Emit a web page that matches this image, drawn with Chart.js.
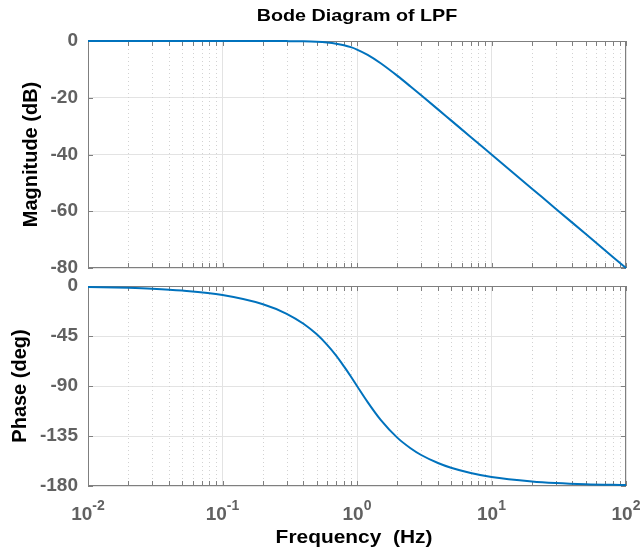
<!DOCTYPE html>
<html>
<head>
<meta charset="utf-8">
<script src="https://cdn.jsdelivr.net/npm/chart.js@4"></script>
<style>
  html, body { margin: 0; padding: 0; background: #fff; }
  #wrap { position: relative; width: 640px; height: 552px; overflow: hidden; }
  #magCanvas { position: absolute; left: 0; top: 0; }
  #phaseCanvas { position: absolute; left: 0; top: 270px; }
</style>
</head>
<body>
<div id="wrap">
  <canvas id="magCanvas" width="640" height="280"></canvas>
  <canvas id="phaseCanvas" width="640" height="282"></canvas>
</div>
<script>
// frequency response of the low pass filter
const freqHz = [0.01, 0.02, 0.03, 0.05, 0.1, 0.2, 0.3, 0.4, 0.5, 0.6, 0.7, 0.8, 0.9,
  1, 1.2, 1.5, 2, 2.5, 3, 4, 5, 7, 10, 20, 30, 50, 100];
const magnitudeDb = [0, 0, 0, 0, 0, -0.01, -0.04, -0.11, -0.26, -0.53, -0.93, -1.48, -2.17,
  -3.01, -4.88, -7.83, -12.3, -16.03, -19.14, -24.1, -27.97, -33.8, -40, -52.04, -59.08, -67.96, -80];
const phaseDeg = [-0.8, -1.6, -2.4, -4.1, -8.1, -16.4, -25, -34, -43.3, -53, -62.7, -72.4, -81.5,
  -90, -104.5, -120.5, -136.7, -146, -152.1, -159.3, -163.6, -168.3, -171.9, -175.9, -177.3, -178.4, -179.2];

const decades = [0.01, 0.1, 1, 10, 100];
const decadeExp = ["-2", "-1", "0", "1", "2"];
const magTicks = [-80, -60, -40, -20, 0];
const phaseTicks = [-180, -135, -90, -45, 0];

const FONT = "'Liberation Sans', Arial, sans-serif";
const LINE = "#0072BD";
const TICK_GRAY = "#616161";

function minorFreqs() {
  const out = [];
  for (let d = 0; d < decades.length - 1; d++) {
    for (let k = 2; k <= 9; k++) out.push(decades[d] * k);
  }
  return out;
}

// text drawn a little wider than the font's natural width
function wideText(ctx, text, x, y, font, stretch) {
  ctx.save();
  ctx.font = font;
  ctx.textAlign = "center";
  ctx.translate(x, y);
  ctx.scale(stretch, 1);
  ctx.fillText(text, 0, 0);
  ctx.restore();
}

// dotted minor grid, box and inward tick marks (under the curve)
const framePlugin = {
  id: "frame",
  beforeDatasetsDraw(chart) {
    const { ctx, chartArea: a, scales } = chart;
    const x = scales.x, y = scales.y;
    ctx.save();
    ctx.strokeStyle = "#d2d2d2";
    ctx.lineWidth = 1;
    ctx.setLineDash([1, 3]);
    minorFreqs().forEach(f => {
      const px = Math.round(x.getPixelForValue(f)) + 0.5;
      ctx.beginPath();
      ctx.moveTo(px, a.top);
      ctx.lineTo(px, a.bottom);
      ctx.stroke();
    });
    ctx.setLineDash([]);
    ctx.strokeStyle = "#7f7f7f";
    ctx.strokeRect(a.left + 0.5, a.top + 0.5, a.right - a.left - 1, a.bottom - a.top - 1);
    ctx.beginPath();
    decades.concat(minorFreqs()).forEach(f => {
      const px = Math.round(x.getPixelForValue(f)) + 0.5;
      ctx.moveTo(px, a.top);
      ctx.lineTo(px, a.top + 5);
      ctx.moveTo(px, a.bottom);
      ctx.lineTo(px, a.bottom - 5);
    });
    y.ticks.forEach(t => {
      const py = Math.round(y.getPixelForValue(t.value)) + 0.5;
      ctx.moveTo(a.left, py);
      ctx.lineTo(a.left + 5, py);
      ctx.moveTo(a.right, py);
      ctx.lineTo(a.right - 5, py);
    });
    ctx.stroke();
    ctx.restore();
  }
};

// title above the magnitude plot
const titlePlugin = {
  id: "bodeTitle",
  afterDraw(chart) {
    const { ctx, chartArea: a } = chart;
    ctx.save();
    ctx.fillStyle = "#000";
    ctx.textBaseline = "alphabetic";
    wideText(ctx, "Bode Diagram of LPF", (a.left + a.right) / 2, 21, "bold 17px " + FONT, 1.16);
    ctx.restore();
  }
};

// 10^n labels and axis name under the phase plot
const decadeLabels = {
  id: "decadeLabels",
  afterDraw(chart) {
    const { ctx, scales, chartArea: a } = chart;
    const x = scales.x;
    const base = a.bottom + 34;
    const big = "bold 19px " + FONT;
    const small = "bold 14px " + FONT;
    ctx.save();
    ctx.fillStyle = TICK_GRAY;
    ctx.textBaseline = "alphabetic";
    ctx.textAlign = "left";
    decades.forEach((f, i) => {
      ctx.font = big;
      const w1 = ctx.measureText("10").width;
      ctx.font = small;
      const w2 = ctx.measureText(decadeExp[i]).width;
      const left = x.getPixelForValue(f) - (w1 + w2) / 2;
      ctx.font = big;
      ctx.fillText("10", left, base);
      ctx.font = small;
      ctx.fillText(decadeExp[i], left + w1, base - 10);
    });
    ctx.fillStyle = "#000";
    wideText(ctx, "Frequency  (Hz)", (a.left + a.right) / 2 - 3, a.bottom + 57, "bold 19px " + FONT, 1.1);
    ctx.restore();
  }
};

function series(values) {
  return freqHz.map((f, i) => ({ x: f, y: values[i] }));
}

function xScale(height) {
  return {
    type: "logarithmic",
    min: 0.01,
    max: 100,
    afterBuildTicks: s => { s.ticks = decades.map(v => ({ value: v })); },
    afterFit: s => { s.height = height; s.paddingLeft = 0; s.paddingRight = 0; },
    ticks: { display: false },
    grid: { color: "#e3e3e3", drawTicks: false },
    border: { display: false }
  };
}

function yScale(ticks, label, titlePad) {
  return {
    min: ticks[0],
    max: ticks[ticks.length - 1],
    afterBuildTicks: s => { s.ticks = ticks.map(v => ({ value: v })); },
    afterFit: s => { s.width = 88; s.paddingTop = 0; s.paddingBottom = 0; },
    ticks: {
      color: TICK_GRAY,
      padding: 10,
      font: { family: FONT, size: 19, weight: "bold" }
    },
    grid: { color: "#e3e3e3", drawTicks: false },
    border: { display: false },
    title: {
      display: true,
      text: label,
      color: "#000",
      font: { family: FONT, size: 20, weight: "bold" },
      padding: { top: titlePad, bottom: 0 }
    }
  };
}

function makeChart(id, values, yTicks, label, titlePad, padding, xHeight, isBottom) {
  return new Chart(document.getElementById(id).getContext("2d"), {
    type: "line",
    data: {
      datasets: [{
        data: series(values),
        borderColor: LINE,
        borderWidth: 2,
        pointRadius: 0,
        fill: false,
        clip: 3,
        cubicInterpolationMode: "monotone"
      }]
    },
    options: {
      responsive: false,
      animation: false,
      layout: { padding: padding },
      plugins: { legend: { display: false }, tooltip: { enabled: false } },
      scales: {
        x: xScale(xHeight),
        y: yScale(yTicks, label, titlePad)
      }
    },
    plugins: isBottom ? [framePlugin, decadeLabels] : [framePlugin, titlePlugin]
  });
}

makeChart("magCanvas", magnitudeDb, magTicks, "Magnitude (dB)", 19,
  { left: 0, right: 14, top: 41, bottom: 0 }, 12, false);
makeChart("phaseCanvas", phaseDeg, phaseTicks, "Phase (deg)", 8,
  { left: 0, right: 14, top: 16, bottom: 0 }, 66, true);
</script>
</body>
</html>
